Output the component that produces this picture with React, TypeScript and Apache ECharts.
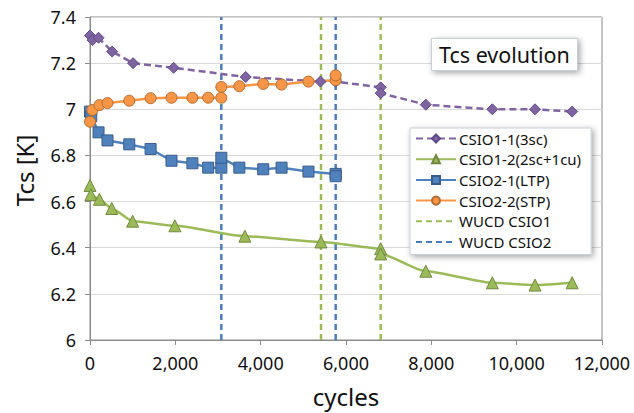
import React, { useEffect, useRef } from "react";
import * as echarts from "echarts";

const csio11: [number, number][] = [
  [0, 7.32], [60, 7.3], [200, 7.31], [520, 7.25], [1010, 7.2], [1960, 7.18],
  [3650, 7.14], [5400, 7.12], [5760, 7.12], [6813, 7.095], [6813, 7.07],
  [7870, 7.02], [9430, 7.0], [10430, 7.0], [11300, 6.99],
];
const csio12: [number, number][] = [
  [0, 6.67], [20, 6.63], [220, 6.61], [510, 6.57], [1000, 6.515], [1990, 6.495],
  [3630, 6.45], [5414, 6.425], [6813, 6.396], [6813, 6.373], [7870, 6.298],
  [9430, 6.248], [10430, 6.238], [11300, 6.248],
];
const csio21: [number, number][] = [
  [0, 6.99], [30, 6.97], [200, 6.9], [410, 6.865], [920, 6.848], [1420, 6.828],
  [1910, 6.777], [2400, 6.766], [2770, 6.747], [3078, 6.747], [3078, 6.79],
  [3500, 6.747], [4060, 6.74], [4490, 6.747], [5120, 6.73], [5758, 6.72], [5758, 6.71],
];
const csio22: [number, number][] = [
  [0, 6.946], [55, 6.997], [220, 7.018], [410, 7.027], [920, 7.037], [1420, 7.048],
  [1910, 7.05], [2400, 7.05], [2770, 7.05], [3078, 7.05], [3078, 7.097],
  [3500, 7.1], [4060, 7.11], [4490, 7.107], [5120, 7.12], [5758, 7.126], [5758, 7.147],
];
const wucdCsio1: number[] = [5414, 6813];
const wucdCsio2: number[] = [3078, 5758];
const yRange: [number, number] = [6, 7.4];

const FONT = "Noto Sans";

export default function App() {
  const ref = useRef<HTMLDivElement>(null);
  useEffect(() => {
    if (!ref.current) return;
    const chart = echarts.init(ref.current, null, { renderer: "svg" });
    const vline = (name: string, x: number, color: string) => ({
      name,
      type: "line",
      data: [[x, yRange[0]], [x, yRange[1]]],
      symbol: "none",
      z: 1,
      lineStyle: { color, width: 2.5, type: [6, 4] },
      itemStyle: { color },
    });
    const marker = {
      CSIO11: { line: "#8064A2", fill: "#8064A2", border: "#5F4B8B" },
      CSIO12: { line: "#9BBB59", fill: "#9BBB59", border: "#71893F" },
      CSIO21: { line: "#4F81BD", fill: "#4F81BD", border: "#385D8A" },
      CSIO22: { line: "#F79646", fill: "#F79646", border: "#B66D31" },
    };
    chart.setOption({
      animation: false,
      textStyle: { fontFamily: FONT },
      title: {
        text: "Tcs evolution",
        left: 431,
        top: 38,
        padding: [5, 8, 6, 8],
        backgroundColor: "#fff",
        borderColor: "#c8d0d8",
        borderWidth: 1,
        shadowBlur: 6,
        shadowColor: "rgba(0,0,0,0.35)",
        shadowOffsetX: 2,
        shadowOffsetY: 2,
        textStyle: { fontFamily: FONT, fontSize: 21.5, fontWeight: "normal", color: "#111" },
      },
      legend: {
        orient: "vertical",
        left: 410,
        top: 128,
        padding: [3, 10, 5, 5],
        itemWidth: 40,
        itemHeight: 10,
        itemGap: 5.7,
        backgroundColor: "#fff",
        borderColor: "#c8d0d8",
        borderWidth: 1,
        shadowBlur: 6,
        shadowColor: "rgba(0,0,0,0.35)",
        shadowOffsetX: 2,
        shadowOffsetY: 2,
        textStyle: { fontFamily: FONT, fontSize: 15, color: "#111", padding: [0, 0, 0, -2] },
        data: [
          "CSIO1-1(3sc)",
          "CSIO1-2(2sc+1cu)",
          "CSIO2-1(LTP)",
          "CSIO2-2(STP)",
          { name: "WUCD CSIO1", itemStyle: { opacity: 0 } },
          { name: "WUCD CSIO2", itemStyle: { opacity: 0 } },
        ],
      },
      grid: {
        left: 90,
        right: 32,
        top: 17,
        bottom: 70,
        show: true,
        borderColor: "#8a8a8a",
        borderWidth: 1,
      },
      xAxis: {
        type: "value",
        min: 0,
        max: 12000,
        interval: 2000,
        name: "cycles",
        nameLocation: "middle",
        nameGap: 44,
        nameTextStyle: { fontFamily: FONT, fontSize: 24, color: "#111" },
        axisLine: { lineStyle: { color: "#8a8a8a" } },
        axisTick: { show: true, length: 5, lineStyle: { color: "#8a8a8a" } },
        axisLabel: {
          fontFamily: FONT,
          fontSize: 18,
          color: "#111",
          margin: 14,
          formatter: (v: number) => v.toLocaleString("en-US"),
        },
        splitLine: { show: false },
      },
      yAxis: {
        type: "value",
        min: yRange[0],
        max: yRange[1],
        interval: 0.2,
        name: "Tcs [K]",
        nameLocation: "middle",
        nameGap: 54,
        nameTextStyle: { fontFamily: FONT, fontSize: 24, color: "#111", padding: [0, 0, 0, 16] },
        axisLine: { show: true, lineStyle: { color: "#8a8a8a" } },
        axisTick: { show: true, length: 5, lineStyle: { color: "#8a8a8a" } },
        axisLabel: { fontFamily: FONT, fontSize: 18, color: "#111", margin: 14 },
        splitLine: { lineStyle: { color: "#d9d9d9" } },
      },
      series: [
        vline("WUCD CSIO1", wucdCsio1[0], "#9BBB59"),
        vline("WUCD CSIO1", wucdCsio1[1], "#9BBB59"),
        vline("WUCD CSIO2", wucdCsio2[0], "#4A7EBB"),
        vline("WUCD CSIO2", wucdCsio2[1], "#4A7EBB"),
        {
          name: "CSIO1-1(3sc)",
          type: "line",
          data: csio11,
          symbol: "diamond",
          symbolSize: 11,
          z: 3,
          lineStyle: { color: marker.CSIO11.line, width: 2.5, type: [7, 4] },
          itemStyle: { color: marker.CSIO11.fill, borderColor: marker.CSIO11.border, borderWidth: 1 },
        },
        {
          name: "CSIO1-2(2sc+1cu)",
          type: "line",
          data: csio12,
          symbol: "triangle",
          symbolSize: 12,
          smooth: 0.2,
          smoothMonotone: "x",
          z: 3,
          lineStyle: { color: marker.CSIO12.line, width: 2.5 },
          itemStyle: { color: marker.CSIO12.fill, borderColor: marker.CSIO12.border, borderWidth: 1 },
        },
        {
          name: "CSIO2-1(LTP)",
          type: "line",
          data: csio21,
          symbol: "rect",
          symbolSize: 11,
          z: 3,
          lineStyle: { color: marker.CSIO21.line, width: 2.5 },
          itemStyle: { color: marker.CSIO21.fill, borderColor: marker.CSIO21.border, borderWidth: 1 },
        },
        {
          name: "CSIO2-2(STP)",
          type: "line",
          data: csio22,
          symbol: "circle",
          symbolSize: 11,
          z: 3,
          lineStyle: { color: marker.CSIO22.line, width: 2.5 },
          itemStyle: { color: marker.CSIO22.fill, borderColor: marker.CSIO22.border, borderWidth: 1 },
        },
      ],
    });
    return () => chart.dispose();
  }, []);
  return <div ref={ref} style={{ width: 634, height: 413, position: "absolute", left: 0, top: 0, background: "#fff" }} />;
}
